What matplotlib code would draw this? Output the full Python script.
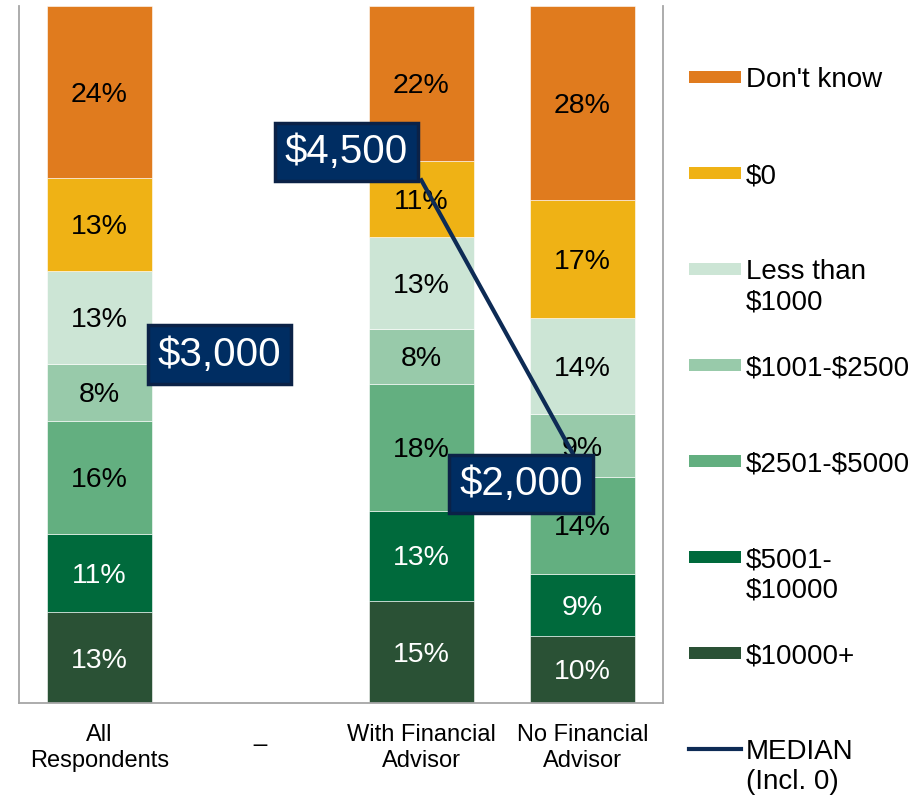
import matplotlib.pyplot as plt
import numpy as np
from matplotlib.patches import Rectangle
from matplotlib.lines import Line2D

plt.rcParams['font.family'] = ['Liberation Sans', 'DejaVu Sans']

# data (bottom to top of each bar)
categories = ["All\nRespondents", "_", "With Financial\nAdvisor", "No Financial\nAdvisor"]
bands = ["$10000+", "$5001-\n$10000", "$2501-$5000", "$1001-$2500",
         "Less than\n$1000", "$0", "Don't know"]
colors = ["#2A5135", "#006A3C", "#63AF80", "#98CAAA", "#CCE5D5", "#EFB215", "#E07B1E"]
label_colors = ["white", "white", "black", "black", "black", "black", "black"]

all_resp = [13.0, 11.3, 16.2, 8.2, 13.3, 13.3, 24.7]
gap = [0, 0, 0, 0, 0, 0, 0]
with_fa = [14.7, 12.9, 18.1, 8.0, 13.1, 11.0, 22.2]
no_fa = [9.6, 8.9, 13.9, 9.0, 13.9, 16.8, 27.9]

all_lbl = [13, 11, 16, 8, 13, 13, 24]
with_lbl = [15, 13, 18, 8, 13, 11, 22]
no_lbl = [10, 9, 14, 9, 14, 17, 28]

medians = [3000, np.nan, 4500, 2000]
median_text = ["$3,000", "", "$4,500", "$2,000"]

values = np.array([all_resp, gap, with_fa, no_fa]).T
labels = [all_lbl, None, with_lbl, no_lbl]

fig = plt.figure(figsize=(9.15, 7.98), dpi=100)
ax = fig.add_axes([0.0208, 0.119, 0.7035, 0.8735])
x = np.arange(len(categories))

bottom = np.zeros(len(categories))
for i in range(len(bands)):
    ax.bar(x, values[i], 0.65, bottom=bottom, color=colors[i],
           edgecolor="white", linewidth=0.4)
    for j in range(len(categories)):
        if labels[j] is None:
            continue
        ax.text(x[j], bottom[j] + values[i][j] / 2 - 0.4, "%d%%" % labels[j][i],
                ha="center", va="center", fontsize=20.5, color=label_colors[i])
    bottom += values[i]

ax.set_xlim(-0.5, 3.5)
ax.set_ylim(0, 100)
ax.set_yticks([])
ax.set_xticks(x)
ax.set_xticklabels(categories, fontsize=17, linespacing=1.22)
ax.tick_params(axis="x", length=0, pad=15)
for s in ["left", "bottom", "right"]:
    ax.spines[s].set_color("#A6A6A6")
    ax.spines[s].set_linewidth(1.3)
ax.spines["top"].set_visible(False)

# median line on second scale
ax2 = ax.twinx()
ax2.set_ylim(0, 6000)
ax2.set_axis_off()
ax2.plot(x, medians, color="#0D2B55", linewidth=3)
offsets = [(120, 0), None, (-75, 28), (-61, -13)]
for j in range(len(categories)):
    if offsets[j] is None:
        continue
    ax2.annotate(median_text[j], (x[j], medians[j]), xytext=offsets[j],
                 textcoords="offset pixels", ha="center", va="center",
                 fontsize=29, color="white", parse_math=False,
                 bbox=dict(boxstyle="square,pad=0.25", facecolor="#002D62",
                           edgecolor="#0B2247", linewidth=2.5))

# legend, top to bottom
W, H = 915, 798
legend_names = bands[::-1] + ["MEDIAN\n(Incl. 0)"]
legend_colors = colors[::-1] + ["#0D2B55"]
for k, name in enumerate(legend_names):
    yc = 77 + 96 * k
    if k < len(bands):
        fig.patches.append(Rectangle((689 / W, 1 - (yc + 6) / H), 52 / W, 12 / H,
                                     transform=fig.transFigure, facecolor=legend_colors[k],
                                     edgecolor="none"))
    else:
        fig.lines.append(Line2D([689 / W, 741 / W], [1 - yc / H, 1 - yc / H],
                                transform=fig.transFigure, color=legend_colors[k],
                                linewidth=3))
    for n, line in enumerate(name.split("\n")):
        fig.text(746 / W, 1 - (yc + 10 + 30 * n) / H, line, fontsize=20,
                 va="baseline", ha="left", parse_math=False)

fig.savefig("out.png", dpi=100)
